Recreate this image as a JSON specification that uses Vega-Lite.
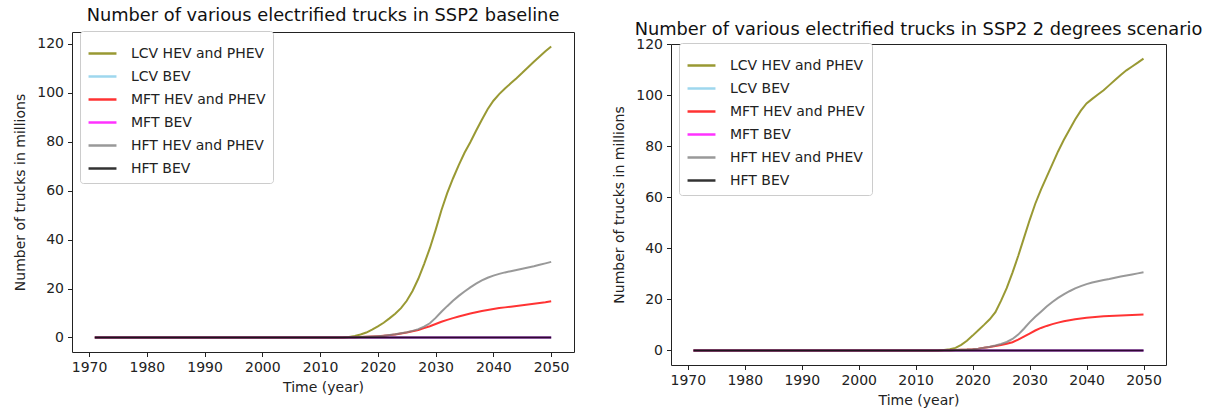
{
 "$schema": "https://vega.github.io/schema/vega-lite/v6.json",
 "padding": {"left": 13, "top": 5, "right": 5, "bottom": 0},
 "datasets": {
  "base": [
   {"year": 1971, "LCV HEV and PHEV": 0, "LCV BEV": 0, "MFT HEV and PHEV": 0, "MFT BEV": 0, "HFT HEV and PHEV": 0, "HFT BEV": 0},
   {"year": 1980, "LCV HEV and PHEV": 0, "LCV BEV": 0, "MFT HEV and PHEV": 0, "MFT BEV": 0, "HFT HEV and PHEV": 0, "HFT BEV": 0},
   {"year": 1990, "LCV HEV and PHEV": 0, "LCV BEV": 0, "MFT HEV and PHEV": 0, "MFT BEV": 0, "HFT HEV and PHEV": 0, "HFT BEV": 0},
   {"year": 2000, "LCV HEV and PHEV": 0, "LCV BEV": 0, "MFT HEV and PHEV": 0, "MFT BEV": 0, "HFT HEV and PHEV": 0, "HFT BEV": 0},
   {"year": 2010, "LCV HEV and PHEV": 0, "LCV BEV": 0, "MFT HEV and PHEV": 0, "MFT BEV": 0, "HFT HEV and PHEV": 0, "HFT BEV": 0},
   {"year": 2013, "LCV HEV and PHEV": 0, "LCV BEV": 0, "MFT HEV and PHEV": 0, "MFT BEV": 0, "HFT HEV and PHEV": 0, "HFT BEV": 0},
   {"year": 2014, "LCV HEV and PHEV": 0.05, "LCV BEV": 0, "MFT HEV and PHEV": 0, "MFT BEV": 0, "HFT HEV and PHEV": 0, "HFT BEV": 0},
   {"year": 2015, "LCV HEV and PHEV": 0.2, "LCV BEV": 0, "MFT HEV and PHEV": 0.05, "MFT BEV": 0, "HFT HEV and PHEV": 0.05, "HFT BEV": 0},
   {"year": 2016, "LCV HEV and PHEV": 0.6, "LCV BEV": 0, "MFT HEV and PHEV": 0.1, "MFT BEV": 0, "HFT HEV and PHEV": 0.1, "HFT BEV": 0},
   {"year": 2017, "LCV HEV and PHEV": 1.2, "LCV BEV": 0, "MFT HEV and PHEV": 0.15, "MFT BEV": 0, "HFT HEV and PHEV": 0.15, "HFT BEV": 0},
   {"year": 2018, "LCV HEV and PHEV": 2.0, "LCV BEV": 0, "MFT HEV and PHEV": 0.25, "MFT BEV": 0, "HFT HEV and PHEV": 0.25, "HFT BEV": 0},
   {"year": 2019, "LCV HEV and PHEV": 3.2, "LCV BEV": 0, "MFT HEV and PHEV": 0.35, "MFT BEV": 0, "HFT HEV and PHEV": 0.35, "HFT BEV": 0},
   {"year": 2020, "LCV HEV and PHEV": 4.5, "LCV BEV": 0, "MFT HEV and PHEV": 0.5, "MFT BEV": 0, "HFT HEV and PHEV": 0.5, "HFT BEV": 0},
   {"year": 2021, "LCV HEV and PHEV": 6.0, "LCV BEV": 0, "MFT HEV and PHEV": 0.7, "MFT BEV": 0, "HFT HEV and PHEV": 0.7, "HFT BEV": 0},
   {"year": 2022, "LCV HEV and PHEV": 7.8, "LCV BEV": 0, "MFT HEV and PHEV": 0.95, "MFT BEV": 0, "HFT HEV and PHEV": 1.0, "HFT BEV": 0},
   {"year": 2023, "LCV HEV and PHEV": 9.7, "LCV BEV": 0, "MFT HEV and PHEV": 1.25, "MFT BEV": 0, "HFT HEV and PHEV": 1.3, "HFT BEV": 0},
   {"year": 2024, "LCV HEV and PHEV": 12.0, "LCV BEV": 0, "MFT HEV and PHEV": 1.6, "MFT BEV": 0, "HFT HEV and PHEV": 1.7, "HFT BEV": 0},
   {"year": 2025, "LCV HEV and PHEV": 15.0, "LCV BEV": 0, "MFT HEV and PHEV": 2.0, "MFT BEV": 0, "HFT HEV and PHEV": 2.1, "HFT BEV": 0},
   {"year": 2026, "LCV HEV and PHEV": 19.0, "LCV BEV": 0, "MFT HEV and PHEV": 2.5, "MFT BEV": 0, "HFT HEV and PHEV": 2.7, "HFT BEV": 0},
   {"year": 2027, "LCV HEV and PHEV": 24.0, "LCV BEV": 0, "MFT HEV and PHEV": 3.0, "MFT BEV": 0, "HFT HEV and PHEV": 3.4, "HFT BEV": 0},
   {"year": 2028, "LCV HEV and PHEV": 30.0, "LCV BEV": 0, "MFT HEV and PHEV": 3.8, "MFT BEV": 0, "HFT HEV and PHEV": 4.4, "HFT BEV": 0},
   {"year": 2029, "LCV HEV and PHEV": 36.5, "LCV BEV": 0, "MFT HEV and PHEV": 4.6, "MFT BEV": 0, "HFT HEV and PHEV": 5.8, "HFT BEV": 0},
   {"year": 2030, "LCV HEV and PHEV": 44.0, "LCV BEV": 0, "MFT HEV and PHEV": 5.5, "MFT BEV": 0, "HFT HEV and PHEV": 8.0, "HFT BEV": 0},
   {"year": 2031, "LCV HEV and PHEV": 52.0, "LCV BEV": 0, "MFT HEV and PHEV": 6.4, "MFT BEV": 0, "HFT HEV and PHEV": 10.5, "HFT BEV": 0},
   {"year": 2032, "LCV HEV and PHEV": 59.0, "LCV BEV": 0, "MFT HEV and PHEV": 7.2, "MFT BEV": 0, "HFT HEV and PHEV": 12.8, "HFT BEV": 0},
   {"year": 2033, "LCV HEV and PHEV": 65.0, "LCV BEV": 0, "MFT HEV and PHEV": 7.9, "MFT BEV": 0, "HFT HEV and PHEV": 15.0, "HFT BEV": 0},
   {"year": 2034, "LCV HEV and PHEV": 70.5, "LCV BEV": 0, "MFT HEV and PHEV": 8.6, "MFT BEV": 0, "HFT HEV and PHEV": 17.0, "HFT BEV": 0},
   {"year": 2035, "LCV HEV and PHEV": 75.5, "LCV BEV": 0, "MFT HEV and PHEV": 9.2, "MFT BEV": 0, "HFT HEV and PHEV": 18.8, "HFT BEV": 0},
   {"year": 2036, "LCV HEV and PHEV": 79.8, "LCV BEV": 0, "MFT HEV and PHEV": 9.8, "MFT BEV": 0, "HFT HEV and PHEV": 20.5, "HFT BEV": 0},
   {"year": 2037, "LCV HEV and PHEV": 84.5, "LCV BEV": 0, "MFT HEV and PHEV": 10.3, "MFT BEV": 0, "HFT HEV and PHEV": 22.0, "HFT BEV": 0},
   {"year": 2038, "LCV HEV and PHEV": 89.0, "LCV BEV": 0, "MFT HEV and PHEV": 10.8, "MFT BEV": 0, "HFT HEV and PHEV": 23.3, "HFT BEV": 0},
   {"year": 2039, "LCV HEV and PHEV": 93.3, "LCV BEV": 0, "MFT HEV and PHEV": 11.2, "MFT BEV": 0, "HFT HEV and PHEV": 24.4, "HFT BEV": 0},
   {"year": 2040, "LCV HEV and PHEV": 96.8, "LCV BEV": 0, "MFT HEV and PHEV": 11.6, "MFT BEV": 0, "HFT HEV and PHEV": 25.3, "HFT BEV": 0},
   {"year": 2041, "LCV HEV and PHEV": 99.5, "LCV BEV": 0, "MFT HEV and PHEV": 12.0, "MFT BEV": 0, "HFT HEV and PHEV": 26.0, "HFT BEV": 0},
   {"year": 2042, "LCV HEV and PHEV": 101.8, "LCV BEV": 0, "MFT HEV and PHEV": 12.3, "MFT BEV": 0, "HFT HEV and PHEV": 26.6, "HFT BEV": 0},
   {"year": 2043, "LCV HEV and PHEV": 103.9, "LCV BEV": 0, "MFT HEV and PHEV": 12.6, "MFT BEV": 0, "HFT HEV and PHEV": 27.1, "HFT BEV": 0},
   {"year": 2044, "LCV HEV and PHEV": 106.0, "LCV BEV": 0, "MFT HEV and PHEV": 12.9, "MFT BEV": 0, "HFT HEV and PHEV": 27.6, "HFT BEV": 0},
   {"year": 2045, "LCV HEV and PHEV": 108.2, "LCV BEV": 0, "MFT HEV and PHEV": 13.2, "MFT BEV": 0, "HFT HEV and PHEV": 28.1, "HFT BEV": 0},
   {"year": 2046, "LCV HEV and PHEV": 110.5, "LCV BEV": 0, "MFT HEV and PHEV": 13.5, "MFT BEV": 0, "HFT HEV and PHEV": 28.6, "HFT BEV": 0},
   {"year": 2047, "LCV HEV and PHEV": 112.7, "LCV BEV": 0, "MFT HEV and PHEV": 13.8, "MFT BEV": 0, "HFT HEV and PHEV": 29.1, "HFT BEV": 0},
   {"year": 2048, "LCV HEV and PHEV": 114.9, "LCV BEV": 0, "MFT HEV and PHEV": 14.1, "MFT BEV": 0, "HFT HEV and PHEV": 29.7, "HFT BEV": 0},
   {"year": 2049, "LCV HEV and PHEV": 117.0, "LCV BEV": 0, "MFT HEV and PHEV": 14.4, "MFT BEV": 0, "HFT HEV and PHEV": 30.3, "HFT BEV": 0},
   {"year": 2050, "LCV HEV and PHEV": 119.0, "LCV BEV": 0, "MFT HEV and PHEV": 14.8, "MFT BEV": 0, "HFT HEV and PHEV": 30.9, "HFT BEV": 0}
  ],
  "two": [
   {"year": 1971, "LCV HEV and PHEV": 0, "LCV BEV": 0, "MFT HEV and PHEV": 0, "MFT BEV": 0, "HFT HEV and PHEV": 0, "HFT BEV": 0},
   {"year": 1980, "LCV HEV and PHEV": 0, "LCV BEV": 0, "MFT HEV and PHEV": 0, "MFT BEV": 0, "HFT HEV and PHEV": 0, "HFT BEV": 0},
   {"year": 1990, "LCV HEV and PHEV": 0, "LCV BEV": 0, "MFT HEV and PHEV": 0, "MFT BEV": 0, "HFT HEV and PHEV": 0, "HFT BEV": 0},
   {"year": 2000, "LCV HEV and PHEV": 0, "LCV BEV": 0, "MFT HEV and PHEV": 0, "MFT BEV": 0, "HFT HEV and PHEV": 0, "HFT BEV": 0},
   {"year": 2010, "LCV HEV and PHEV": 0, "LCV BEV": 0, "MFT HEV and PHEV": 0, "MFT BEV": 0, "HFT HEV and PHEV": 0, "HFT BEV": 0},
   {"year": 2013, "LCV HEV and PHEV": 0, "LCV BEV": 0, "MFT HEV and PHEV": 0, "MFT BEV": 0, "HFT HEV and PHEV": 0, "HFT BEV": 0},
   {"year": 2014, "LCV HEV and PHEV": 0.05, "LCV BEV": 0, "MFT HEV and PHEV": 0, "MFT BEV": 0, "HFT HEV and PHEV": 0, "HFT BEV": 0},
   {"year": 2015, "LCV HEV and PHEV": 0.15, "LCV BEV": 0, "MFT HEV and PHEV": 0.05, "MFT BEV": 0, "HFT HEV and PHEV": 0.05, "HFT BEV": 0},
   {"year": 2016, "LCV HEV and PHEV": 0.5, "LCV BEV": 0, "MFT HEV and PHEV": 0.1, "MFT BEV": 0, "HFT HEV and PHEV": 0.1, "HFT BEV": 0},
   {"year": 2017, "LCV HEV and PHEV": 1.0, "LCV BEV": 0, "MFT HEV and PHEV": 0.15, "MFT BEV": 0, "HFT HEV and PHEV": 0.15, "HFT BEV": 0},
   {"year": 2018, "LCV HEV and PHEV": 2.2, "LCV BEV": 0, "MFT HEV and PHEV": 0.25, "MFT BEV": 0, "HFT HEV and PHEV": 0.25, "HFT BEV": 0},
   {"year": 2019, "LCV HEV and PHEV": 3.8, "LCV BEV": 0, "MFT HEV and PHEV": 0.35, "MFT BEV": 0, "HFT HEV and PHEV": 0.35, "HFT BEV": 0},
   {"year": 2020, "LCV HEV and PHEV": 5.8, "LCV BEV": 0, "MFT HEV and PHEV": 0.5, "MFT BEV": 0, "HFT HEV and PHEV": 0.5, "HFT BEV": 0},
   {"year": 2021, "LCV HEV and PHEV": 7.9, "LCV BEV": 0, "MFT HEV and PHEV": 0.7, "MFT BEV": 0, "HFT HEV and PHEV": 0.7, "HFT BEV": 0},
   {"year": 2022, "LCV HEV and PHEV": 10.0, "LCV BEV": 0, "MFT HEV and PHEV": 1.0, "MFT BEV": 0, "HFT HEV and PHEV": 1.0, "HFT BEV": 0},
   {"year": 2023, "LCV HEV and PHEV": 12.2, "LCV BEV": 0, "MFT HEV and PHEV": 1.3, "MFT BEV": 0, "HFT HEV and PHEV": 1.4, "HFT BEV": 0},
   {"year": 2024, "LCV HEV and PHEV": 15.0, "LCV BEV": 0, "MFT HEV and PHEV": 1.7, "MFT BEV": 0, "HFT HEV and PHEV": 1.9, "HFT BEV": 0},
   {"year": 2025, "LCV HEV and PHEV": 19.5, "LCV BEV": 0, "MFT HEV and PHEV": 2.1, "MFT BEV": 0, "HFT HEV and PHEV": 2.5, "HFT BEV": 0},
   {"year": 2026, "LCV HEV and PHEV": 24.5, "LCV BEV": 0, "MFT HEV and PHEV": 2.6, "MFT BEV": 0, "HFT HEV and PHEV": 3.3, "HFT BEV": 0},
   {"year": 2027, "LCV HEV and PHEV": 30.5, "LCV BEV": 0, "MFT HEV and PHEV": 3.2, "MFT BEV": 0, "HFT HEV and PHEV": 4.5, "HFT BEV": 0},
   {"year": 2028, "LCV HEV and PHEV": 37.0, "LCV BEV": 0, "MFT HEV and PHEV": 4.2, "MFT BEV": 0, "HFT HEV and PHEV": 6.2, "HFT BEV": 0},
   {"year": 2029, "LCV HEV and PHEV": 44.0, "LCV BEV": 0, "MFT HEV and PHEV": 5.4, "MFT BEV": 0, "HFT HEV and PHEV": 8.5, "HFT BEV": 0},
   {"year": 2030, "LCV HEV and PHEV": 51.0, "LCV BEV": 0, "MFT HEV and PHEV": 6.6, "MFT BEV": 0, "HFT HEV and PHEV": 11.0, "HFT BEV": 0},
   {"year": 2031, "LCV HEV and PHEV": 57.5, "LCV BEV": 0, "MFT HEV and PHEV": 7.8, "MFT BEV": 0, "HFT HEV and PHEV": 13.2, "HFT BEV": 0},
   {"year": 2032, "LCV HEV and PHEV": 63.0, "LCV BEV": 0, "MFT HEV and PHEV": 8.8, "MFT BEV": 0, "HFT HEV and PHEV": 15.2, "HFT BEV": 0},
   {"year": 2033, "LCV HEV and PHEV": 68.0, "LCV BEV": 0, "MFT HEV and PHEV": 9.6, "MFT BEV": 0, "HFT HEV and PHEV": 17.2, "HFT BEV": 0},
   {"year": 2034, "LCV HEV and PHEV": 73.0, "LCV BEV": 0, "MFT HEV and PHEV": 10.3, "MFT BEV": 0, "HFT HEV and PHEV": 19.0, "HFT BEV": 0},
   {"year": 2035, "LCV HEV and PHEV": 78.0, "LCV BEV": 0, "MFT HEV and PHEV": 10.9, "MFT BEV": 0, "HFT HEV and PHEV": 20.6, "HFT BEV": 0},
   {"year": 2036, "LCV HEV and PHEV": 82.5, "LCV BEV": 0, "MFT HEV and PHEV": 11.4, "MFT BEV": 0, "HFT HEV and PHEV": 22.0, "HFT BEV": 0},
   {"year": 2037, "LCV HEV and PHEV": 86.5, "LCV BEV": 0, "MFT HEV and PHEV": 11.8, "MFT BEV": 0, "HFT HEV and PHEV": 23.2, "HFT BEV": 0},
   {"year": 2038, "LCV HEV and PHEV": 90.5, "LCV BEV": 0, "MFT HEV and PHEV": 12.2, "MFT BEV": 0, "HFT HEV and PHEV": 24.3, "HFT BEV": 0},
   {"year": 2039, "LCV HEV and PHEV": 94.0, "LCV BEV": 0, "MFT HEV and PHEV": 12.5, "MFT BEV": 0, "HFT HEV and PHEV": 25.2, "HFT BEV": 0},
   {"year": 2040, "LCV HEV and PHEV": 96.8, "LCV BEV": 0, "MFT HEV and PHEV": 12.8, "MFT BEV": 0, "HFT HEV and PHEV": 26.0, "HFT BEV": 0},
   {"year": 2041, "LCV HEV and PHEV": 98.6, "LCV BEV": 0, "MFT HEV and PHEV": 13.0, "MFT BEV": 0, "HFT HEV and PHEV": 26.6, "HFT BEV": 0},
   {"year": 2042, "LCV HEV and PHEV": 100.3, "LCV BEV": 0, "MFT HEV and PHEV": 13.2, "MFT BEV": 0, "HFT HEV and PHEV": 27.1, "HFT BEV": 0},
   {"year": 2043, "LCV HEV and PHEV": 102.0, "LCV BEV": 0, "MFT HEV and PHEV": 13.4, "MFT BEV": 0, "HFT HEV and PHEV": 27.6, "HFT BEV": 0},
   {"year": 2044, "LCV HEV and PHEV": 104.0, "LCV BEV": 0, "MFT HEV and PHEV": 13.5, "MFT BEV": 0, "HFT HEV and PHEV": 28.0, "HFT BEV": 0},
   {"year": 2045, "LCV HEV and PHEV": 106.0, "LCV BEV": 0, "MFT HEV and PHEV": 13.6, "MFT BEV": 0, "HFT HEV and PHEV": 28.5, "HFT BEV": 0},
   {"year": 2046, "LCV HEV and PHEV": 108.0, "LCV BEV": 0, "MFT HEV and PHEV": 13.7, "MFT BEV": 0, "HFT HEV and PHEV": 29.0, "HFT BEV": 0},
   {"year": 2047, "LCV HEV and PHEV": 109.8, "LCV BEV": 0, "MFT HEV and PHEV": 13.8, "MFT BEV": 0, "HFT HEV and PHEV": 29.4, "HFT BEV": 0},
   {"year": 2048, "LCV HEV and PHEV": 111.3, "LCV BEV": 0, "MFT HEV and PHEV": 13.9, "MFT BEV": 0, "HFT HEV and PHEV": 29.8, "HFT BEV": 0},
   {"year": 2049, "LCV HEV and PHEV": 112.8, "LCV BEV": 0, "MFT HEV and PHEV": 14.0, "MFT BEV": 0, "HFT HEV and PHEV": 30.2, "HFT BEV": 0},
   {"year": 2050, "LCV HEV and PHEV": 114.4, "LCV BEV": 0, "MFT HEV and PHEV": 14.1, "MFT BEV": 0, "HFT HEV and PHEV": 30.6, "HFT BEV": 0}
  ]
 },
 "spacing": 37,
 "resolve": {"legend": {"color": "independent"}},
 "hconcat": [
  {
   "spacing": 0,
   "resolve": {"legend": {"color": "independent"}},
   "vconcat": [
    {"width": 502, "height": 1, "data": {"values": []}, "mark": "point", "view": {"stroke": null}},
    {
     "title": {"text": "Number of various electrified trucks in SSP2 baseline", "frame": "group"},
     "width": 502,
     "height": 320,
     "data": {"name": "base"},
     "transform": [{"fold": ["LCV HEV and PHEV", "LCV BEV", "MFT HEV and PHEV", "MFT BEV", "HFT HEV and PHEV", "HFT BEV"], "as": ["series", "value"]}],
     "mark": {"type": "line", "strokeWidth": 2, "strokeOpacity": 0.8},
     "encoding": {
      "x": {"field": "year", "type": "quantitative", "title": "Time (year)", "scale": {"domain": [1967.05, 2053.95], "nice": false, "zero": false}, "axis": {"values": [1970, 1980, 1990, 2000, 2010, 2020, 2030, 2040, 2050], "format": "d"}},
      "y": {"field": "value", "type": "quantitative", "title": "Number of trucks in millions", "scale": {"domain": [-5.95, 124.9], "nice": false, "zero": false}, "axis": {"values": [0, 20, 40, 60, 80, 100, 120]}},
      "color": {"field": "series", "type": "nominal", "scale": {"domain": ["LCV HEV and PHEV", "LCV BEV", "MFT HEV and PHEV", "MFT BEV", "HFT HEV and PHEV", "HFT BEV"], "range": ["#808000", "#87ceeb", "#ff0000", "#ff00ff", "#808080", "#000000"]}, "legend": {"title": null, "orient": "none", "legendX": 8, "legendY": -1}}
     }
    }
   ]
  },
  {
   "spacing": 0,
   "resolve": {"legend": {"color": "independent"}},
   "vconcat": [
    {"width": 495, "height": 14.5, "data": {"values": []}, "mark": "point", "view": {"stroke": null}},
    {
     "title": {"text": "Number of various electrified trucks in SSP2 2 degrees scenario", "frame": "group", "offset": -1.5},
     "width": 495,
     "height": 321,
     "data": {"name": "two"},
     "transform": [{"fold": ["LCV HEV and PHEV", "LCV BEV", "MFT HEV and PHEV", "MFT BEV", "HFT HEV and PHEV", "HFT BEV"], "as": ["series", "value"]}],
     "mark": {"type": "line", "strokeWidth": 2, "strokeOpacity": 0.8},
     "encoding": {
      "x": {"field": "year", "type": "quantitative", "title": "Time (year)", "scale": {"domain": [1967.05, 2053.95], "nice": false, "zero": false}, "axis": {"values": [1970, 1980, 1990, 2000, 2010, 2020, 2030, 2040, 2050], "format": "d"}},
      "y": {"field": "value", "type": "quantitative", "title": "Number of trucks in millions", "scale": {"domain": [-5.72, 120.12], "nice": false, "zero": false}, "axis": {"values": [0, 20, 40, 60, 80, 100, 120]}},
      "color": {"field": "series", "type": "nominal", "scale": {"domain": ["LCV HEV and PHEV", "LCV BEV", "MFT HEV and PHEV", "MFT BEV", "HFT HEV and PHEV", "HFT BEV"], "range": ["#808000", "#87ceeb", "#ff0000", "#ff00ff", "#808080", "#000000"]}, "legend": {"title": null, "orient": "none", "legendX": 8, "legendY": -1}}
     }
    }
   ]
  }
 ],
 "config": {
  "font": "DejaVu Sans",
  "background": "white",
  "view": {"stroke": "#222222", "strokeWidth": 1},
  "title": {"font": "DejaVu Sans", "fontSize": 17.8, "fontWeight": "normal", "color": "#111111", "offset": 6, "anchor": "middle", "frame": "group"},
  "axis": {"grid": false, "domain": false, "tickColor": "#222222", "tickSize": 4.5, "tickWidth": 1, "labelFont": "DejaVu Sans", "labelFontSize": 14, "labelColor": "#222222", "labelPadding": 4, "titleFont": "DejaVu Sans", "titleFontSize": 14, "titleFontWeight": "normal", "titleColor": "#222222", "titlePadding": 6},
  "axisY": {"titlePadding": 9},
  "legend": {"labelFont": "DejaVu Sans", "labelFontSize": 14, "labelColor": "#222222", "symbolType": "stroke", "symbolSize": 780, "symbolStrokeWidth": 2.5, "symbolOpacity": 0.8, "labelOffset": 13, "rowPadding": 0, "padding": 7, "strokeColor": "#cccccc", "cornerRadius": 3, "fillColor": "white"}
 }
}
